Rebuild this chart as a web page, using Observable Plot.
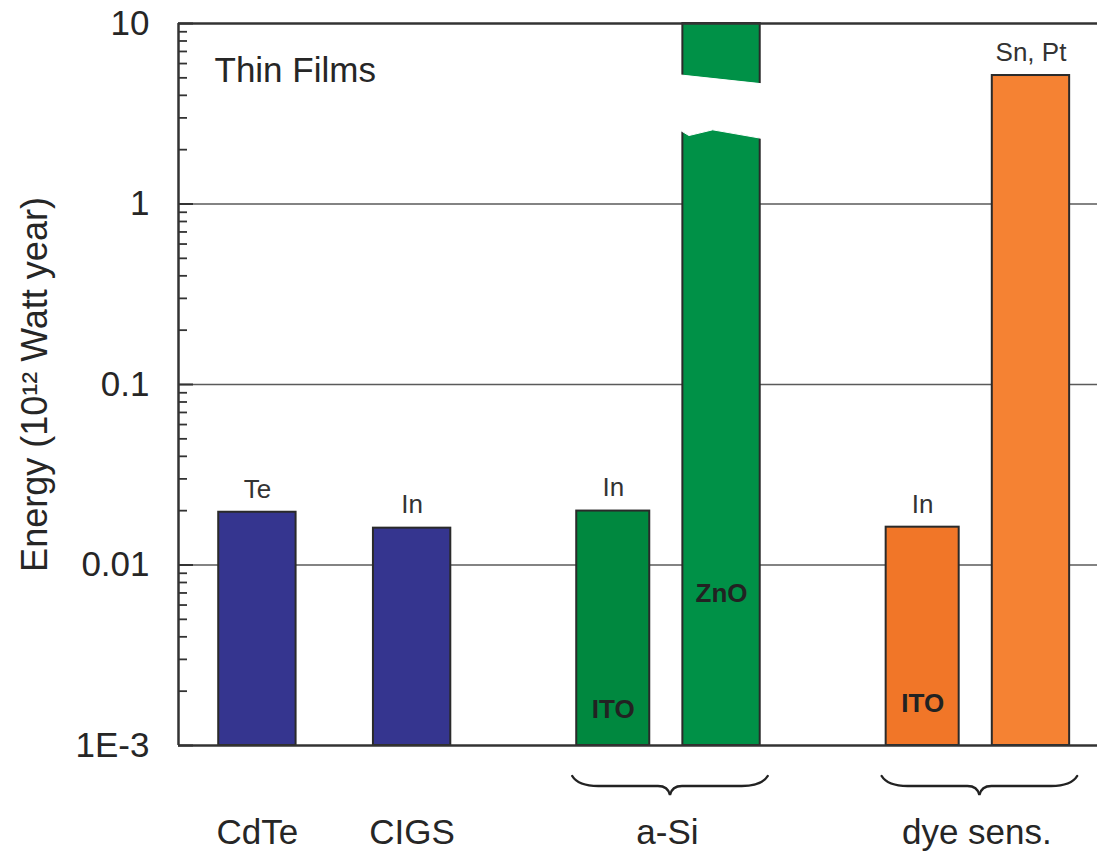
<!DOCTYPE html>
<html><head><meta charset="utf-8">
<script src="https://cdn.jsdelivr.net/npm/d3@7"></script>
<script src="https://cdn.jsdelivr.net/npm/@observablehq/plot@0.6"></script>
<style>body{margin:0;background:#fff} #chart{width:1097px;height:854px}</style>
</head><body><div id="chart"></div>
<script>
// ---- data ----
const barNames = ["CdTe", "CIGS", "a-Si ITO", "a-Si ZnO", "dye ITO", "dye Sn, Pt"];
const barGroups = ["CdTe", "CIGS", "a-Si", "a-Si", "dye sens.", "dye sens."];
const barPositions = [1, 2, 3.3, 4, 5.3, 6];
const barValues = [0.0196, 0.0160, 0.0199, 10, 0.0162, 5.15];
const topLabels = ["Te", "In", "In", "", "In", "Sn, Pt"];
const innerLabels = ["", "", "ITO", "ZnO", "ITO", ""];
const innerLabelValues = [null, null, 0.00158, 0.0069, 0.00170, null];
const barColors = ["#35358f", "#35358f", "#00883f", "#009147", "#f17628", "#f58233"];
const yTicks = [0.001, 0.01, 0.1, 1, 10];
const yTickLabels = ["1E-3", "0.01", "0.1", "1", "10"];
const gridValues = [0.01, 0.1, 1];
const minorTicks = [0.002,0.003,0.004,0.005,0.006,0.007,0.008,0.009,
                    0.02,0.03,0.04,0.05,0.06,0.07,0.08,0.09,
                    0.2,0.3,0.4,0.5,0.6,0.7,0.8,0.9,
                    2,3,4,5,6,7,8,9];
const breakTop = [5.16, 4.6];                 // cut values at left/right edge of ZnO bar
const breakBottom = [[0, 2.56], [0.115, 2.38], [0.4, 2.56], [1, 2.29]]; // [fraction across bar, value]
const yTitle = "Energy (10¹² Watt year)";
const panelTitle = "Thin Films";

// ---- layout ----
const W = 1097, H = 854, mL = 178, mR = 0, mT = 23, mB = 109;
const plotW = W - mL - mR;
const FONT = "'Liberation Sans', Arial, Helvetica, sans-serif";
const INK = "#262626";

const data = barNames.map((n, i) => ({
  name: n, group: barGroups[i], pos: barPositions[i], value: barValues[i],
  top: topLabels[i], inner: innerLabels[i], innerY: innerLabelValues[i],
  color: barColors[i], half: innerLabels[i] === "ITO" ? 0.236 : 0.25
}));
const groupLabels = d3.rollups(data, v => d3.mean(v, d => d.pos), d => d.group)
  .map(([g, x]) => ({g, x}));
const braceGroups = d3.rollups(data.filter(d => d.group === "a-Si" || d.group === "dye sens."),
  v => [d3.min(v, d => d.pos - d.half), d3.max(v, d => d.pos + d.half)], d => d.group);

function breakMark(index, scales) {
  const b = data.find(d => d.inner === "ZnO");
  const xl = scales.x(b.pos - b.half) - 3, xr = scales.x(b.pos + b.half) + 3;
  const w = xr - xl;
  const pts = [[xl, scales.y(breakTop[0])], [xr, scales.y(breakTop[1])]];
  for (let i = breakBottom.length - 1; i >= 0; i--) {
    const [f, v] = breakBottom[i];
    pts.push([xl + f * w, scales.y(v)]);
  }
  const g = d3.create("svg:g");
  g.append("path").attr("d", "M" + pts.map(p => p.join(",")).join("L") + "Z")
    .attr("fill", "white").attr("stroke", "white").attr("stroke-width", 1);
  return g.node();
}

function braceMark(index, scales, values, dims) {
  const g = d3.create("svg:g").attr("fill", "none").attr("stroke", "#222")
    .attr("stroke-width", 2.4).attr("stroke-linecap", "round");
  const yb = dims.height - dims.marginBottom;
  const yTip = yb + 31, yMid = yb + 41, yCusp = yb + 50;
  for (const [grp, [a, b]] of braceGroups) {
    const x1 = scales.x(a) - 4, x2 = scales.x(b) + 8, cx = (x1 + x2) / 2;
    const p = d3.path();
    p.moveTo(x1, yTip);
    p.quadraticCurveTo(x1 + 6, yMid, x1 + 26, yMid);
    p.lineTo(cx - 12, yMid);
    p.quadraticCurveTo(cx - 2, yMid, cx, yCusp);
    p.quadraticCurveTo(cx + 2, yMid, cx + 12, yMid);
    p.lineTo(x2 - 26, yMid);
    p.quadraticCurveTo(x2 - 6, yMid, x2, yTip);
    g.append("path").attr("d", p.toString());
  }
  return g.node();
}

const chart = Plot.plot({
  width: W, height: H,
  marginLeft: mL, marginRight: mR, marginTop: mT, marginBottom: mB,
  style: {fontFamily: FONT, background: "white", color: INK, overflow: "visible"},
  x: {type: "linear", domain: [0.49, 6.43], axis: null},
  y: {type: "log", domain: [1e-3, 10]},
  color: {type: "identity"},
  marks: [
    Plot.ruleY(gridValues, {stroke: "#5a5a5a", strokeWidth: 1.3}),
    Plot.ruleY(minorTicks, {insetRight: plotW - 9, stroke: "#333", strokeWidth: 1.8}),
    Plot.ruleY(yTicks, {insetRight: plotW - 15, stroke: "#333", strokeWidth: 2}),
    Plot.rect(data, {
      x1: d => d.pos - d.half, x2: d => d.pos + d.half,
      y1: 1e-3, y2: "value", fill: "color", stroke: "#2a2a2a", strokeWidth: 2
    }),
    breakMark,
    Plot.ruleY([1e-3], {stroke: "#333", strokeWidth: 2.5}),
    Plot.ruleY([10], {stroke: "#333", strokeWidth: 2.5}),
    Plot.ruleX([0.49], {stroke: "#333", strokeWidth: 2.5}),
    Plot.text(data.filter(d => d.top), {
      x: "pos", y: "value", text: "top", dy: -23, fontSize: 26, fill: "#333"
    }),
    Plot.text(data.filter(d => d.inner), {
      x: "pos", y: "innerY", text: "inner", fontSize: 26, fontWeight: "bold", fill: "#222"
    }),
    Plot.axisY(yTicks, {
      tickSize: 0, tickPadding: 29, fontSize: 35, fill: INK, label: null,
      tickFormat: d => yTickLabels[yTicks.indexOf(d)]
    }),
    Plot.text([yTitle], {
      frameAnchor: "left", textAnchor: "middle", lineAnchor: "middle",
      rotate: -90, dx: -143, fontSize: 36, fill: INK
    }),
    Plot.text([panelTitle], {
      frameAnchor: "top-left", textAnchor: "start", lineAnchor: "top",
      dx: 36, dy: 34, fontSize: 35, fill: INK
    }),
    Plot.text(groupLabels, {x: "x", text: "g", frameAnchor: "bottom", dy: 98, fontSize: 35, fill: INK}),
    braceMark
  ]
});
document.getElementById("chart").appendChild(chart);
</script>
</body></html>
